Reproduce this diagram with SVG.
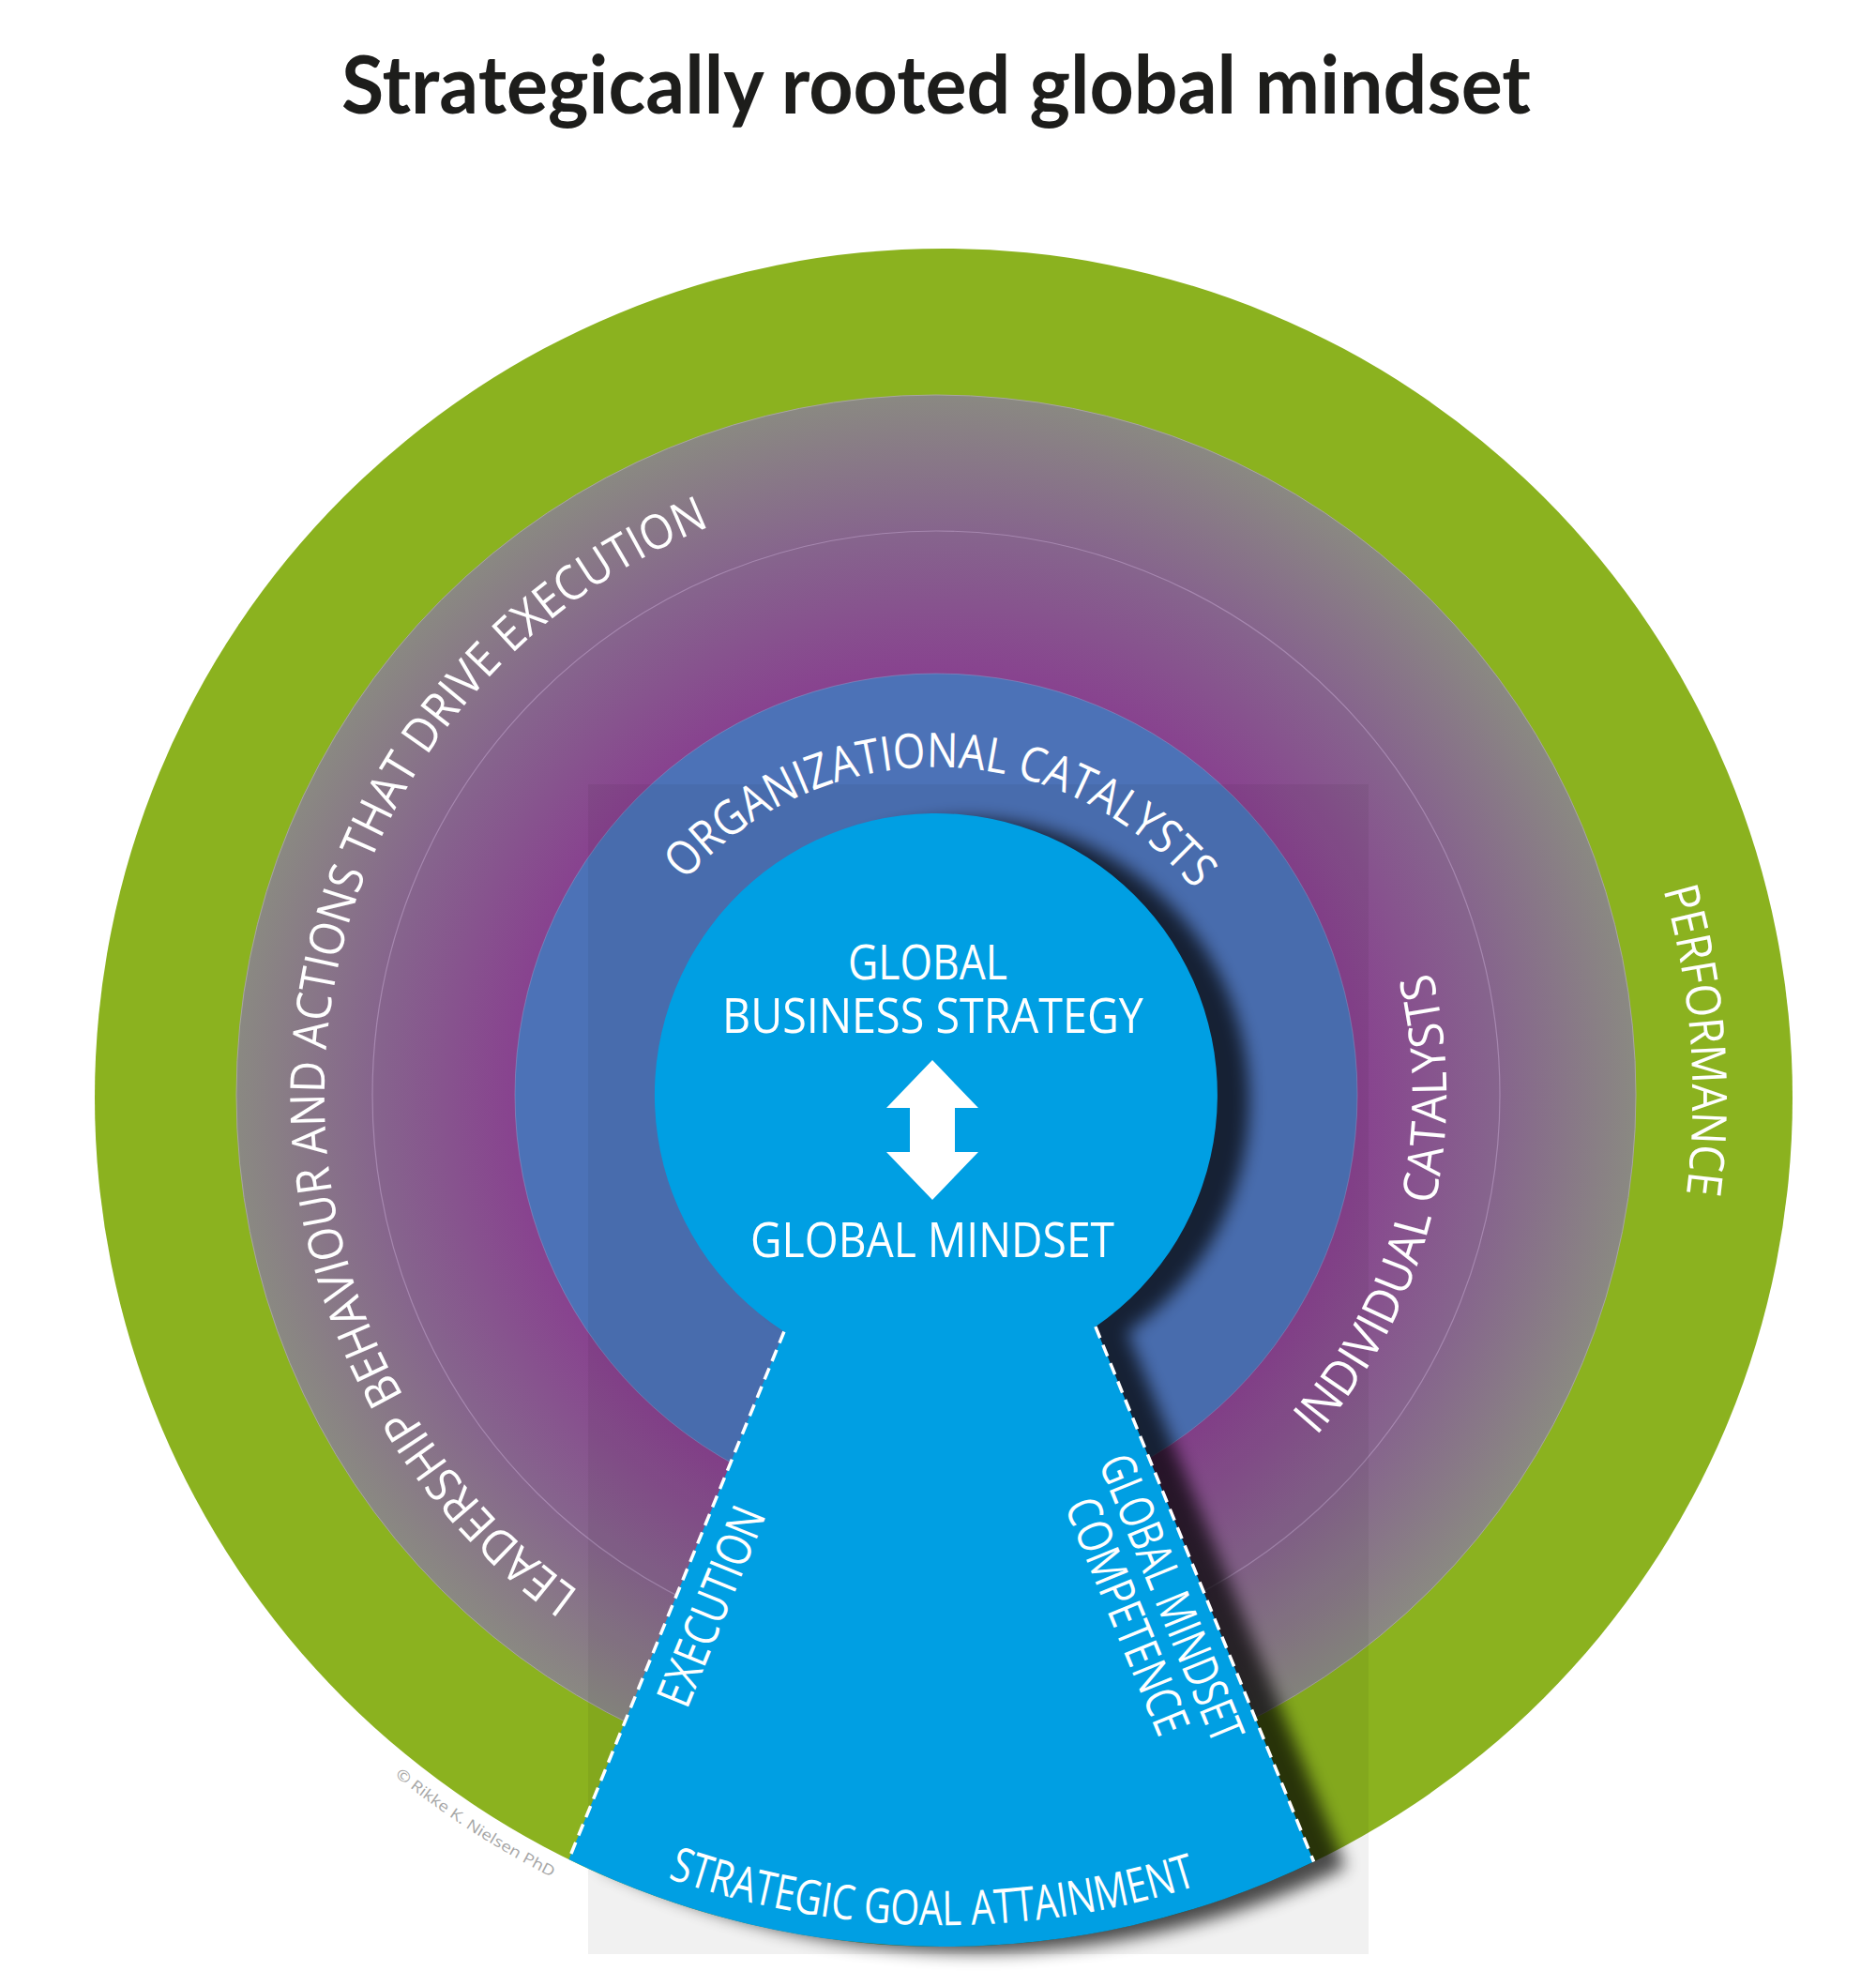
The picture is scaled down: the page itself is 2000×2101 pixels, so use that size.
<svg xmlns="http://www.w3.org/2000/svg" width="2000" height="2101" viewBox="0 0 2000 2101">
<defs>
<style>
.lbl{font-family:"Open Sans","Liberation Sans",sans-serif;font-size:51px;fill:#ffffff;}
.title{font-family:Lato,"Liberation Sans",sans-serif;font-weight:bold;font-size:86px;fill:#1d1d1b;}
.copy{font-family:"Open Sans","Liberation Sans",sans-serif;font-size:16px;fill:#a6a6a6;}
.dash{stroke:#ffffff;stroke-width:3.5;stroke-dasharray:13 8;fill:none;}
</style>
<radialGradient id="ringGrad" gradientUnits="userSpaceOnUse" cx="998" cy="1167" r="746">
<stop offset="0.6" stop-color="#88428f"/>
<stop offset="0.8" stop-color="#86648d"/>
<stop offset="1" stop-color="#8a8982"/>
</radialGradient>
<path id="keyholeShape" d="M835.9 1419.5 A300 300 0 1 1 1167.9 1414.2 L1400.6 1984.5 A905 905 0 0 1 606.4 1982 Z"/>
<filter id="shadow" x="-20%" y="-20%" width="140%" height="140%">
<feGaussianBlur in="SourceAlpha" stdDeviation="9"/>
<feOffset dx="34" dy="6"/>
<feComponentTransfer><feFuncA type="linear" slope="0.7"/></feComponentTransfer>
</filter>
<clipPath id="greenClip"><circle cx="1006" cy="1170" r="905"/></clipPath>
<path id="orgPath" d="M643.1 1160.8 A355 355 0 0 1 1352.9 1173.2"/>
<path id="leadPath" d="M1032.1 1818.1 A652 652 0 1 1 1188.6 543.5"/>
<path id="indPath" d="M865.4 1698.7 A548 548 0 0 0 1130.6 635.3"/>
<path id="perfPath" d="M945.4 372.3 A800 800 0 0 1 1066.6 1967.7"/>
<path id="stratPath" d="M119.1 1157.6 A887 887 0 0 0 1892.9 1182.4"/>
<path id="copyPath" d="M222.2 663.9 A933 933 0 0 0 1789.8 1676.1"/>
</defs>
<rect width="2000" height="2101" fill="#ffffff"/>
<rect id="backdrop" x="627" y="836" width="832" height="1247" fill="#f1f1f1"/>

<g id="performance-ring">
<circle cx="1006" cy="1170" r="905" fill="#8bb21f"/>
</g>
<g id="leadership-ring">
<circle cx="998" cy="1167" r="746" fill="url(#ringGrad)" stroke="#a9a79f" stroke-width="1"/>
<circle cx="998" cy="1167" r="601" fill="none" stroke="#b496bd" stroke-opacity="0.7" stroke-width="1.2"/>
</g>
<g id="organizational-ring">
<circle cx="998" cy="1167" r="449" fill="#4c72b7" stroke="#8d9ccc" stroke-opacity="0.5" stroke-width="1"/>
</g>
<rect x="627" y="836" width="832" height="1247" fill="#000" opacity="0.05" clip-path="url(#greenClip)"/>

<g id="ring-labels">
<text class="lbl"><textPath href="#orgPath" startOffset="50%" text-anchor="middle" textLength="618" lengthAdjust="spacingAndGlyphs">ORGANIZATIONAL CATALYSTS</textPath></text>
<text class="lbl"><textPath href="#leadPath" startOffset="50%" text-anchor="middle" textLength="1395" lengthAdjust="spacingAndGlyphs">LEADERSHIP BEHAVIOUR AND ACTIONS THAT DRIVE EXECUTION</textPath></text>
<text class="lbl"><textPath href="#indPath" startOffset="50%" text-anchor="middle" textLength="530" lengthAdjust="spacingAndGlyphs">INDIVIDUAL CATALYSTS</textPath></text>
<text class="lbl"><textPath href="#perfPath" startOffset="50%" text-anchor="middle" textLength="328" lengthAdjust="spacingAndGlyphs">PERFORMANCE</textPath></text>
</g>

<g id="keyhole">
<use href="#keyholeShape" filter="url(#shadow)"/>
<use href="#keyholeShape" fill="#009fe3"/>
</g>

<g id="connectors">
<line class="dash" x1="835.9" y1="1419.5" x2="606.4" y2="1982"/>
<line class="dash" x1="1167.9" y1="1414.2" x2="1400.6" y2="1984.5"/>
</g>

<g id="center-node">
<text class="lbl" x="989" y="1044" text-anchor="middle" textLength="170" lengthAdjust="spacingAndGlyphs">GLOBAL</text>
<text class="lbl" x="994.5" y="1101" text-anchor="middle" textLength="449" lengthAdjust="spacingAndGlyphs">BUSINESS STRATEGY</text>
<path d="M994 1130 L1043 1181 L1018 1181 L1018 1228 L1043 1228 L994 1279 L945 1228 L970 1228 L970 1181 L945 1181 Z" fill="#ffffff"/>
<text class="lbl" x="994" y="1340" text-anchor="middle" textLength="388" lengthAdjust="spacingAndGlyphs">GLOBAL MINDSET</text>
</g>

<g id="keyhole-labels">
<text class="lbl" transform="translate(758 1712) rotate(-67.8)" x="0" y="18" text-anchor="middle" textLength="225" lengthAdjust="spacingAndGlyphs">EXECUTION</text>
<g transform="translate(1225.5 1713) rotate(67.8)">
<text class="lbl" x="0" y="-7.5" text-anchor="middle" textLength="326" lengthAdjust="spacingAndGlyphs">GLOBAL MINDSET</text>
<text class="lbl" x="0" y="43.5" text-anchor="middle" textLength="268" lengthAdjust="spacingAndGlyphs">COMPETENCE</text>
</g>
<text class="lbl"><textPath href="#stratPath" startOffset="50%" text-anchor="middle" textLength="575" lengthAdjust="spacingAndGlyphs">STRATEGIC GOAL ATTAINMENT</textPath></text>
</g>

<g id="copyright">
<text class="copy"><textPath href="#copyPath" startOffset="50%" text-anchor="middle" textLength="200" lengthAdjust="spacingAndGlyphs">© Rikke K. Nielsen PhD</textPath></text>
</g>

<g id="title">
<text class="title" x="998" y="121" text-anchor="middle" textLength="1268" lengthAdjust="spacingAndGlyphs">Strategically rooted global mindset</text>
</g>
</svg>
